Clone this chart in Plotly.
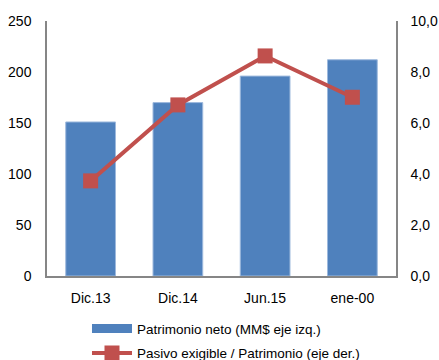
import plotly.graph_objects as go

categories = ["Dic.13", "Dic.14", "Jun.15", "ene-00"]
patrimonio = [151, 170, 196, 212]
pasivo_ratio = [3.73, 6.71, 8.63, 7.01]
left_ticks = [0, 50, 100, 150, 200, 250]
right_ticks = [0, 2, 4, 6, 8, 10]

BLUE = "#4F81BD"
RED = "#C0504D"
FONT = "Liberation Sans, Arial, sans-serif"

fig = go.Figure()
fig.add_trace(go.Bar(
    x=categories, y=patrimonio, name="Patrimonio neto (MM$ eje izq.)",
    marker=dict(color=BLUE, line=dict(color="#9DB9DD", width=1)),
    width=0.57, yaxis="y", showlegend=False,
))
# legend entry for the bars (wide swatch like the original)
fig.add_trace(go.Scatter(
    x=categories[:1], y=[None], mode="lines", name="Patrimonio neto (MM$ eje izq.)",
    line=dict(color=BLUE, width=9), yaxis="y", hoverinfo="skip", legendgroup="a",
))
fig.add_trace(go.Scatter(
    x=categories, y=pasivo_ratio, name="Pasivo exigible / Patrimonio (eje der.)",
    mode="lines+markers",
    line=dict(color=RED, width=4),
    marker=dict(symbol="square", size=15, color=RED),
    yaxis="y2", legendgroup="b",
))

axis_font = dict(family=FONT, size=14, color="#000000")
fig.update_layout(
    width=439, height=360,
    margin=dict(l=47, r=43, t=21, b=84),
    paper_bgcolor="white", plot_bgcolor="white",
    separators=",.",
    font=axis_font,
    showlegend=True,
    legend=dict(orientation="v", xref="paper", yref="container",
                x=0.1146, xanchor="left", y=0.13, yanchor="top",
                font=dict(family=FONT, size=13.5, color="#000000"),
                itemwidth=40, tracegroupgap=4, bgcolor="rgba(0,0,0,0)"),
    xaxis=dict(type="category", categoryorder="array", categoryarray=categories,
               range=[-0.5, len(categories) - 0.5], automargin=False,
               showline=True, linecolor="#868686", linewidth=1.5, showgrid=False,
               ticks="", tickfont=axis_font, ticklabelstandoff=8),
    yaxis=dict(range=[0, 250], tickvals=left_ticks, showgrid=False, zeroline=False,
               automargin=False,
               showline=True, linecolor="#868686", linewidth=1.5, ticks="",
               tickfont=axis_font, ticklabelstandoff=11),
    yaxis2=dict(range=[0, 10], tickvals=right_ticks, tickformat=".1f", overlaying="y",
                side="right", showgrid=False, zeroline=False, showline=True,
                automargin=False,
                linecolor="#868686", linewidth=1.5, ticks="", tickfont=axis_font,
                ticklabelstandoff=10),
)
fig.write_html("out.html")
